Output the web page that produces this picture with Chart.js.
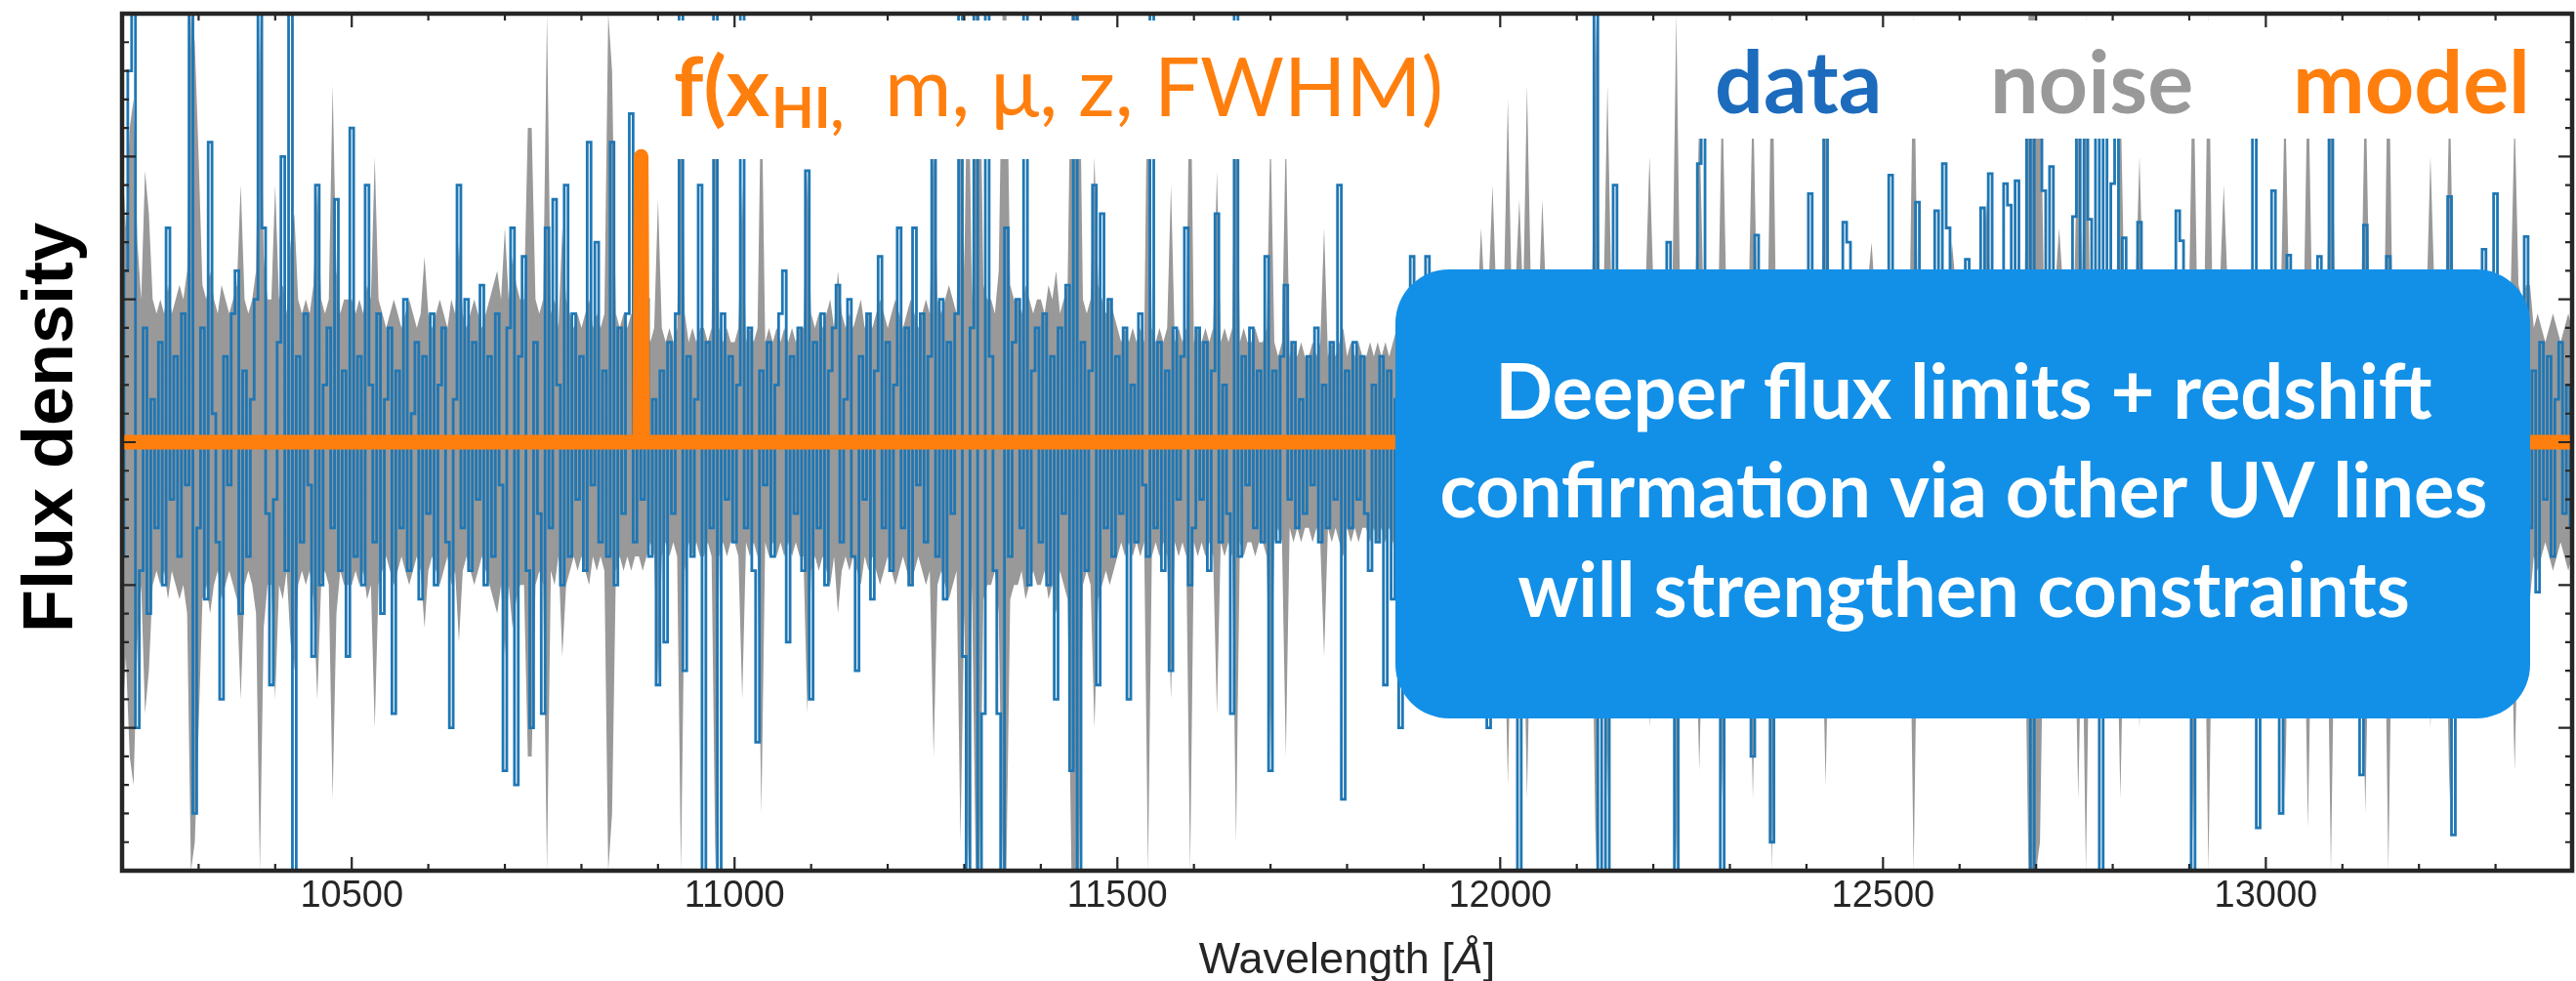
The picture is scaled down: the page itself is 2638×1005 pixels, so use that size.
<!DOCTYPE html>
<html>
<head>
<meta charset="utf-8">
<title>Flux density spectrum</title>
<script src="https://cdn.jsdelivr.net/npm/chart.js"></script>
<style>
  html, body { margin: 0; padding: 0; background: #ffffff; }
  canvas { display: block; }
</style>
</head>
<body>
<canvas id="spectrum" width="2638" height="1005"></canvas>
<script>
// Wavelength grid: one pixel every 5 Å from 10200 to 13400 Å
const waveStart = 10200;
const waveStep = 5;

// Observed flux per pixel (tenths of a major y tick)
const fluxData = [
  -8,12,26,31,-20,-9,8,-12,3,-6,7,-10,15,-4,6,-8,9,-3,31,-26,          // 10200
  -6,8,-11,21,2,-7,-18,6,-3,9,12,-12,5,-8,3,10,31,15,-5,-17,           // 10300
  -4,7,20,-9,31,-31,6,-7,9,-3,-15,18,-10,4,8,-6,17,-9,5,-15,           // 10400
  22,-8,6,-10,18,4,-7,9,-12,3,8,-19,5,-6,10,-9,2,7,-11,6,              // 10500
  -5,9,-10,4,8,-7,-20,3,18,-6,10,-9,7,-4,11,-10,6,-8,9,-3,             // 10600
  -23,8,15,-24,6,13,-9,-20,7,-5,-19,15,-6,17,4,-10,18,-8,9,-4,         // 10700
  6,-9,21,-3,14,-7,5,-8,21,-10,8,-5,9,23,-7,6,-4,10,-8,3,              // 10800
  -17,5,-14,7,-5,9,31,-16,6,-8,3,18,-31,7,-6,31,-31,9,-4,6,            // 10900
  -7,4,31,-6,8,-9,-21,5,-3,7,-8,4,9,12,-14,6,-5,8,-9,19,               // 11000
  -18,7,-6,9,-10,5,8,11,-7,3,10,-8,-16,6,-4,9,-11,5,13,-6,             // 11100
  7,-9,4,15,-6,8,-10,15,-3,9,-7,6,28,-8,10,-11,7,-5,9,31,              // 11200
  -15,-31,8,31,-31,-19,31,6,-9,-19,-31,15,-8,7,10,-6,31,-10,5,8,       // 11300
  -7,9,-10,6,-18,8,-5,11,-23,31,-31,7,-9,5,18,-17,16,-6,10,-8,         // 11400
  6,-5,8,-18,4,-7,9,-3,-8,31,-6,7,-9,5,-16,8,-4,6,15,-10,              // 11500
  -6,8,-4,7,-9,5,16,-7,4,-5,-19,31,-8,6,-3,8,-6,5,-7,13,               // 11600
  -23,5,-7,6,11,-4,7,-6,3,-5,6,-3,8,-7,4,-6,7,-4,18,-25,               // 11700
  5,-6,7,-4,6,-5,-9,4,-7,6,-17,5,-11,3,-20,6,-8,13,7,-5,               // 11800
  -6,13,8,-9,5,-7,10,-4,6,-8,9,-5,7,-10,4,8,-6,-20,9,-3,               // 11900
  7,-8,10,-5,6,-30,8,-9,5,-7,10,-6,4,-8,9,-5,7,-10,6,-4,               // 12000
  8,-9,5,-7,10,31,-31,6,-31,8,18,-6,9,-8,5,-10,7,-5,9,-7,              // 12100
  6,-8,10,-5,14,-7,-31,8,-6,9,-4,7,19.5,22,-9,6,-8,5,-31,8,            // 12200
  -7,9,-5,8,-10,6,-22,14.5,-6,9,-8,-28,7,-5,10,-9,6,-7,8,-4,           // 12300
  9,17.4,-6,8,-9,22,7,-5,10,-8,15.4,14,-7,6,-9,8,-5,10,-6,7,           // 12400
  -8,6,18.7,-7,9,-5,8,-10,6,16.8,-6,9,-8,5,16.2,-7,19.5,15,-9,6,       // 12500
  -7,9,12.8,-6,8,-9,16.4,10,18.8,-5,7,-8,18.1,16.6,-6,18.3,-9,7,25,-31, // 12600
  22,25,17.6,-8,19.3,-6,9,-7,5,-9,15.8,25,-6,25,15.6,-8,25,-31,23,-7,  // 12700
  18.1,23,-8,14.3,-6,9,-7,15.4,-9,6,-5,8,-7,9,-6,7,-8,16.2,14.1,-5,    // 12800
  8,-31,-6,9,-8,7,-5,10,-7,6,-9,8,-6,5,-8,9,-7,25,-27,6,               // 12900
  -8,9,17.6,-6,-26,7,13.1,-9,5,-7,8,-6,9,-5,13,-8,6,25,-7,8,           // 13000
  -6,9,-8,7,-5,-23.3,15.2,-9,6,-7,8,-5,13,-8,9,-6,7,-9,5,-7,           // 13100
  8,-6,9,-8,5,-7,10,-9,17.2,-27.5,6,-8,7,-5,9,-6,8,13.5,-7,6,          // 13200
  17.4,-8,6,-7,9,-5,8,-9,14.4,-6,5,-10.5,7,-4,6,-8,3,7,-5,4,-6         // 13300-13400
];

// 1-sigma noise per pixel, same units (drawn as a band of +/- noise)
const noiseData = [
  20,15,22,24,14,10,19,16,10,9,10,9,11,9,10,11,10,12,30,28,            // 10200
  20,11,10,12,10,9,11,10,9,10,11,18,10,9,10,12,30,13,10,10,            // 10300
  18,10,11,9,14,16,10,9,10,9,11,18,10,9,10,25,12,9,10,10,              // 10400
  10,9,10,9,11,10,20,10,9,8,9,10,9,8,9,10,9,8,9,13,                    // 10500
  9,8,9,10,9,8,10,9,14,9,8,9,10,9,8,9,10,11,12,10,                     // 10600
  15,10,13,11,10,10,22,22,10,9,10,30,9,10,8,15,10,9,8,9,               // 10700
  8,9,10,8,9,8,9,30,26,9,8,9,8,9,8,8,9,8,7,8,                          // 10800
  17,8,7,8,7,8,30,9,7,8,7,8,8,7,8,30,8,7,8,7,                          // 10900
  7,8,18,7,8,7,8,26,7,8,7,8,7,8,7,8,7,8,8,19,                          // 11000
  9,8,9,8,9,10,8,12,9,8,9,8,9,10,8,9,8,9,10,9,                         // 11100
  8,9,10,9,8,9,10,9,8,9,10,9,22,10,9,10,11,10,9,28,                    // 11200
  12,30,10,30,30,11,10,10,9,12,30,30,11,10,10,9,11,10,9,10,            // 11300
  10,9,11,10,12,9,10,11,30,30,30,10,9,10,20,11,10,9,10,9,              // 11400
  8,7,8,7,8,7,8,7,30,8,7,8,7,8,18,7,8,7,8,30,                          // 11500
  7,8,7,8,7,8,19,7,8,7,8,28,7,8,7,7,8,7,7,8,                           // 11600
  22,7,6,7,22,6,7,6,7,6,6,7,6,7,15,6,7,6,7,8,                          // 11700
  6,7,6,7,6,6,7,6,7,6,7,6,7,8,10,9,10,11,10,9,                         // 11800
  10,11,9,10,11,10,9,10,11,10,9,10,11,10,9,15,10,11,18,10,             // 11900
  10,11,24,10,11,17,10,25,11,10,9,17,10,11,10,9,11,10,11,10,           // 12000
  11,10,11,10,11,30,11,10,25,11,11,10,11,10,11,11,10,11,11,20,         // 12100
  11,10,11,11,10,11,30,10,11,11,10,11,23,11,10,11,11,10,25,11,         // 12200
  10,11,11,10,11,11,25,11,10,11,11,30,10,11,11,10,11,11,10,11,         // 12300
  11,11,10,11,11,24,11,10,11,11,11,11,10,11,11,10,11,14,10,11,         // 12400
  11,10,11,11,10,11,11,10,30,11,11,10,11,11,10,11,11,10,14,11,         // 12500
  11,11,10,11,11,10,11,17,11,10,11,11,10,11,11,10,11,11,30,30,         // 12600
  30,28,11,11,10,11,15,11,11,10,11,25,11,30,11,11,10,11,11,10,         // 12700
  11,11,25,11,10,11,11,20,10,11,11,10,11,11,10,11,11,11,10,11,         // 12800
  11,28,11,10,11,30,11,10,11,18,11,10,11,11,10,11,11,11,11,10,         // 12900
  11,11,10,11,11,25,11,10,11,11,11,27,11,10,11,11,10,30,11,11,         // 13000
  10,11,11,10,11,11,26,11,10,11,11,10,30,11,11,10,11,11,10,11,         // 13100
  11,11,10,20,11,11,10,11,25,11,10,11,11,10,11,11,10,11,11,10,         // 13200
  11,11,10,11,11,23,11,10,11,11,8,9,8,7,8,9,8,7,8,9,8                  // 13300-13400
];

// Line model: flat continuum with a narrow emission line
const modelWave = [10200, 10876, 10878, 10880, 13400];
const modelFlux = [0, 0, 20, 0, 0];

const xTickValues = [10500, 11000, 11500, 12000, 12500, 13000];

const helv = '"Liberation Sans", Arial, Helvetica, sans-serif';
const avenir = 'Lato, "Open Sans", sans-serif';

const waves = fluxData.map((_, i) => waveStart + i * waveStep);
const dataPoints = fluxData.map((v, i) => ({ x: waves[i], y: v }));
const noiseUpper = noiseData.map((v, i) => ({ x: waves[i], y: v }));
const noiseLower = noiseData.map((v, i) => ({ x: waves[i], y: -v }));
const modelPoints = modelWave.map((w, i) => ({ x: w, y: modelFlux[i] }));

// font size that makes a string a given width
function fitFont(ctx, text, weight, family, width) {
    ctx.font = `${weight} 100px ${family}`;
    return 100 * width / ctx.measureText(text).width;
}

function roundBox(ctx, x, y, w, h, r) {
    ctx.beginPath();
    ctx.moveTo(x + r, y);
    ctx.lineTo(x + w - r, y);
    ctx.arcTo(x + w, y, x + w, y + r, r);
    ctx.lineTo(x + w, y + h - r);
    ctx.arcTo(x + w, y + h, x + w - r, y + h, r);
    ctx.lineTo(x + r, y + h);
    ctx.arcTo(x, y + h, x, y + h - r, r);
    ctx.lineTo(x, y + r);
    ctx.arcTo(x, y, x + r, y, r);
    ctx.closePath();
}

// Texts, annotation box, frame and inward ticks
const overlayPlugin = {
    id: 'overlay',
    afterDatasetsDraw(chart) {
        const { ctx, chartArea: a, scales: { x, y } } = chart;
        ctx.save();

        // white text backgrounds
        ctx.fillStyle = '#ffffff';
        ctx.fillRect(670, 21, 830, 142);
        ctx.fillRect(1735, 21, 877, 121);

        ctx.textAlign = 'left';
        ctx.textBaseline = 'alphabetic';

        // model parameters
        ctx.fillStyle = '#ff7f0e';
        let s = fitFont(ctx, 'f(x', 'bold', avenir, 98);
        ctx.font = `bold ${s}px ${avenir}`;
        ctx.fillText('f(x', 690, 119);
        const subX = 690 + ctx.measureText('f(x').width + 2;
        s = fitFont(ctx, 'HI,', 'bold', avenir, 74);
        ctx.font = `bold ${s}px ${avenir}`;
        ctx.fillText('HI,', subX, 131);
        s = fitFont(ctx, 'm, μ, z, FWHM)', 'normal', avenir, 572);
        ctx.font = `normal ${s}px ${avenir}`;
        ctx.fillText('m, μ, z, FWHM)', 906, 119);

        // legend words
        s = fitFont(ctx, 'model', 'bold', avenir, 243);
        ctx.font = `bold ${s}px ${avenir}`;
        ctx.fillStyle = '#1c6bbd';
        ctx.fillText('data', 1756, 116);
        ctx.fillStyle = '#999999';
        ctx.fillText('noise', 2038, 116);
        ctx.fillStyle = '#ff7f0e';
        ctx.fillText('model', 2348, 116);

        // annotation box
        ctx.fillStyle = '#1290e8';
        roundBox(ctx, 1429, 276, 1162, 460, 55);
        ctx.fill();
        s = fitFont(ctx, 'confirmation via other UV lines', 'bold', avenir, 1073);
        ctx.font = `bold ${s}px ${avenir}`;
        ctx.fillStyle = '#ffffff';
        ctx.textAlign = 'center';
        ctx.fillText('Deeper flux limits + redshift', 2011, 429);
        ctx.fillText('confirmation via other UV lines', 2011, 530);
        ctx.fillText('will strengthen constraints', 2011, 632);

        // frame
        ctx.strokeStyle = '#262626';
        ctx.lineWidth = 4.5;
        ctx.strokeRect(a.left, a.top, a.right - a.left, a.bottom - a.top);

        // inward ticks on all four sides
        ctx.lineWidth = 2.2;
        ctx.beginPath();
        for (let w = 10200; w <= 13400; w += 100) {
            const px = x.getPixelForValue(w);
            const len = w % 500 === 0 ? 14 : 7;
            ctx.moveTo(px, a.bottom); ctx.lineTo(px, a.bottom - len);
            ctx.moveTo(px, a.top); ctx.lineTo(px, a.top + len);
        }
        for (let v = -30; v <= 30; v += 2) {
            const py = y.getPixelForValue(v);
            const len = v % 10 === 0 ? 14 : 7;
            ctx.moveTo(a.left, py); ctx.lineTo(a.left + len, py);
            ctx.moveTo(a.right, py); ctx.lineTo(a.right - len, py);
        }
        ctx.stroke();

        // axis titles
        ctx.fillStyle = '#000000';
        ctx.font = `bold 72px ${helv}`;
        ctx.textAlign = 'center';
        ctx.save();
        ctx.translate(73.5, 438);
        ctx.rotate(-Math.PI / 2);
        ctx.fillText('Flux density', 0, 0);
        ctx.restore();

        ctx.fillStyle = '#262626';
        ctx.textAlign = 'left';
        const parts = [['Wavelength [', 'normal'], ['Å', 'italic'], [']', 'normal']];
        let total = 0;
        parts.forEach(p => { ctx.font = `${p[1]} 45px ${helv}`; total += ctx.measureText(p[0]).width; });
        let cx = (a.left + a.right) / 2 - total / 2;
        parts.forEach(p => {
            ctx.font = `${p[1]} 45px ${helv}`;
            ctx.fillText(p[0], cx, 997);
            cx += ctx.measureText(p[0]).width;
        });

        ctx.restore();
    }
};

const ctx = document.getElementById('spectrum').getContext('2d');
new Chart(ctx, {
    type: 'line',
    data: {
        datasets: [
            {
                label: 'noise',
                data: noiseUpper,
                borderColor: 'rgba(0,0,0,0)',
                borderWidth: 0,
                backgroundColor: '#999999',
                pointRadius: 0,
                fill: '+1',
                order: 3,
                clip: 0
            },
            {
                label: 'noise lower',
                data: noiseLower,
                borderColor: 'rgba(0,0,0,0)',
                borderWidth: 0,
                pointRadius: 0,
                fill: false,
                order: 3,
                clip: 0
            },
            {
                label: 'data',
                data: dataPoints,
                borderColor: '#1f77b4',
                borderWidth: 2.8,
                pointRadius: 0,
                stepped: 'middle',
                fill: false,
                order: 2,
                clip: 0
            },
            {
                label: 'model',
                data: modelPoints,
                borderColor: '#ff7f0e',
                borderWidth: 15,
                borderCapStyle: 'round',
                borderJoinStyle: 'round',
                pointRadius: 0,
                fill: false,
                order: 1,
                clip: 0
            }
        ]
    },
    options: {
        responsive: false,
        animation: false,
        devicePixelRatio: 1,
        layout: { padding: { left: 125, right: 4, top: 14, bottom: 0 } },
        plugins: {
            legend: { display: false },
            tooltip: { enabled: false }
        },
        scales: {
            x: {
                type: 'linear',
                min: 10200,
                max: 13400,
                afterBuildTicks: scale => {
                    scale.ticks = xTickValues.map(v => ({ value: v }));
                },
                afterFit: scale => { scale.height = 113; },
                grid: { display: false, drawTicks: false },
                border: { display: false },
                ticks: {
                    padding: 4,
                    color: '#262626',
                    autoSkip: false,
                    maxRotation: 0,
                    font: { family: helv, size: 38 },
                    callback: v => String(v)
                }
            },
            y: {
                display: false,
                min: -30,
                max: 30
            }
        }
    },
    plugins: [overlayPlugin]
});
</script>
</body>
</html>
